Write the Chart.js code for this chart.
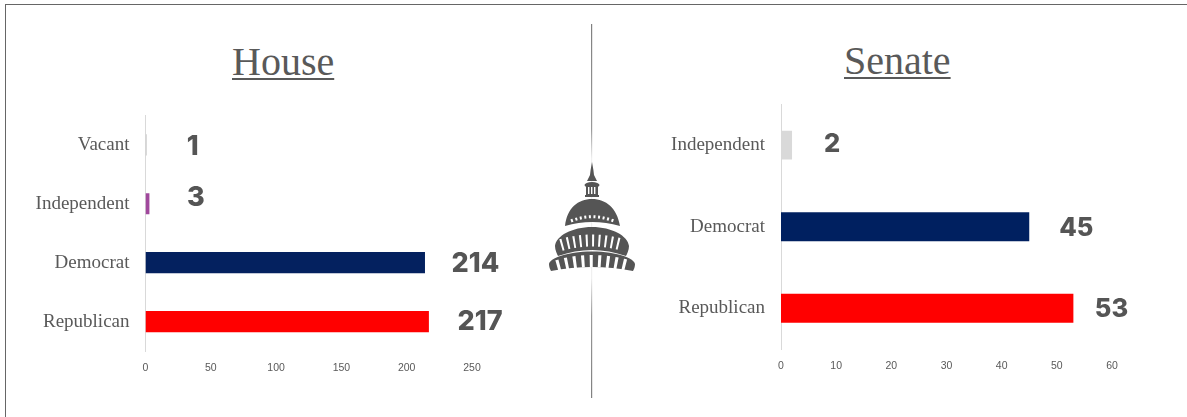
<!DOCTYPE html>
<html>
<head>
<meta charset="utf-8">
<title>House and Senate</title>
<script src="https://cdn.jsdelivr.net/npm/chart.js@4"></script>
<style>
    html, body { margin: 0; background: #fff; }
    #page { position: relative; width: 1187px; height: 417px; overflow: hidden; }
    #frame { position: absolute; left: 5px; top: 4px; right: 0; bottom: 0; border-left: 1.5px solid #666; border-top: 1.5px solid #666; }
    h2 {
        position: absolute; margin: 0; font: normal 40px "Liberation Serif", serif; color: #595959;
        text-decoration: underline; text-decoration-thickness: 2px; text-underline-offset: 3px;
    }
    canvas { position: absolute; }
    #art { position: absolute; left: 0; top: 0; }
</style>
</head>
<body>
<div id="page">
    <div id="frame"></div>
    <h2 style="left: 232px; top: 38px;">House</h2>
    <h2 style="left: 844px; top: 37px;">Senate</h2>
    <canvas id="house-chart" style="left: 0; top: 88px;"></canvas>
    <canvas id="senate-chart" style="left: 640px; top: 77px;"></canvas>

    <!-- Divider and Capitol dome between the two panels -->
    <svg id="art" width="1187" height="417">
        <defs>
            <linearGradient id="fade" gradientUnits="userSpaceOnUse" x1="0" y1="24" x2="0" y2="398">
                <stop offset="0" stop-color="#808080"/>
                <stop offset="0.28" stop-color="#999"/>
                <stop offset="0.36" stop-color="#f0f0f0"/>
                <stop offset="0.68" stop-color="#f0f0f0"/>
                <stop offset="0.78" stop-color="#999"/>
                <stop offset="1" stop-color="#808080"/>
            </linearGradient>
        </defs>
        <rect x="591" y="24" width="1.2" height="374" fill="url(#fade)"/>
        <g fill="#555">
            <path d="M592 162 L593.4 170 L594 175 L597 181 L587 181 L590 175 L590.6 170 Z"/>
            <ellipse cx="592" cy="185" rx="7.5" ry="3"/>
            <rect x="586" y="186" width="12" height="10"/>
            <rect x="585" y="195" width="14" height="2"/>
            <path d="M565 226 C567 208 578 199 592 199 C606 199 617 208 620 226 Q592 218 565 226 Z"/>
            <path d="M555 246 C556 236 572 227 592 227 C612 227 628 236 629 246 C629 250 627 254 626 256 Q592 244 558 256 C557 254 555 250 555 246 Z"/>
            <path d="M549 264 C550 258 568 251.5 592 251.5 C616 251.5 634 258 635 264 C635 267 634 269 633 271 Q592 263 551 271 C550 269 549 267 549 264 Z"/>
        </g>
        <g fill="none" stroke="#fff">
            <path d="M588 190.5 H597" stroke-width="7" stroke-dasharray="1.4 1.6"/>
            <path d="M571 221 Q592 212.5 614 221" stroke-width="3" stroke-dasharray="2 2.6"/>
            <path d="M561 245 Q592 236 623 245" stroke-width="12" stroke-dasharray="2 4.3"/>
            <path d="M557 266 Q592 256 628 266" stroke-width="12" stroke-dasharray="3 5.3"/>
        </g>
    </svg>
</div>

<script>
// House seats
const houseCategories = ['Vacant', 'Independent', 'Democrat', 'Republican'];
const houseSeats = [1, 3, 214, 217];
const houseColors = ['#d0d0d0', '#a0489c', '#04215f', '#ff0000'];
const houseTicks = [0, 50, 100, 150, 200, 250];

// Senate seats
const senateCategories = ['Independent', 'Democrat', 'Republican'];
const senateSeats = [2, 45, 53];
const senateColors = ['#d9d9d9', '#002060', '#ff0000'];
const senateTicks = [0, 10, 20, 30, 40, 50, 60];

// Draws the big seat counts next to each bar
const valueLabels = {
    id: 'valueLabels',
    afterDatasetsDraw(chart, args, opts) {
        const ctx = chart.ctx;
        const meta = chart.getDatasetMeta(0);
        ctx.save();
        ctx.font = '800 ' + opts.size + 'px Inter, sans-serif';
        ctx.fillStyle = '#555555';
        ctx.textAlign = 'left';
        ctx.textBaseline = 'middle';
        meta.data.forEach((bar, i) => {
            const value = chart.data.datasets[0].data[i];
            ctx.fillText(value, bar.x + opts.dx[i], bar.y + opts.dy[i]);
        });
        ctx.restore();
    }
};

// Build one horizontal bar panel
function createSeatChart(id, size, categories, seats, colors, ticks, layout) {
    const canvas = document.getElementById(id);
    canvas.width = size.width;
    canvas.height = size.height;

    new Chart(canvas.getContext('2d'), {
        type: 'bar',
        data: {
            labels: categories,
            datasets: [{
                data: seats,
                backgroundColor: colors,
                barPercentage: layout.barPercentage,
                categoryPercentage: 1
            }]
        },
        options: {
            indexAxis: 'y',
            responsive: false,
            animation: false,
            layout: { padding: layout.padding, autoPadding: false },
            scales: {
                x: {
                    min: ticks[0],
                    max: ticks[ticks.length - 1],
                    afterBuildTicks: scale => { scale.ticks = ticks.map(v => ({ value: v })); },
                    afterFit: scale => { scale.height = layout.axisHeight; },
                    grid: { display: false, tickLength: 0 },
                    border: { display: false },
                    ticks: {
                        color: '#595959',
                        padding: layout.tickPadding,
                        maxRotation: 0,
                        font: { family: '"Liberation Sans", sans-serif', size: 10.5 }
                    }
                },
                y: {
                    afterFit: scale => { scale.width = layout.axisWidth; },
                    grid: { display: false, tickLength: 0 },
                    border: { color: '#d9d9d9', width: 1 },
                    ticks: {
                        color: '#595959',
                        padding: 16,
                        font: { family: '"Liberation Serif", serif', size: 19 }
                    }
                }
            },
            plugins: {
                legend: { display: false },
                title: { display: false },
                tooltip: { enabled: false },
                valueLabels: layout.labels
            }
        },
        plugins: [valueLabels]
    });
}

createSeatChart('house-chart', { width: 520, height: 302 }, houseCategories, houseSeats, houseColors, houseTicks, {
    barPercentage: 0.36,
    padding: { top: 5, right: 48 },
    axisWidth: 145.5,
    axisHeight: 39,
    tickPadding: 11,
    labels: { size: 27, dx: [40, 37.6, 26.6, 28.7], dy: [2, -6, 1, 0] }
});

createSeatChart('senate-chart', { width: 510, height: 303 }, senateCategories, senateSeats, senateColors, senateTicks, {
    barPercentage: 0.354,
    padding: { top: 2, right: 38 },
    axisWidth: 141,
    axisHeight: 31,
    tickPadding: 11,
    labels: { size: 25.5, dx: [32, 30, 21.4], dy: [-0.5, 1.5, 1.5] }
});
</script>
</body>
</html>
